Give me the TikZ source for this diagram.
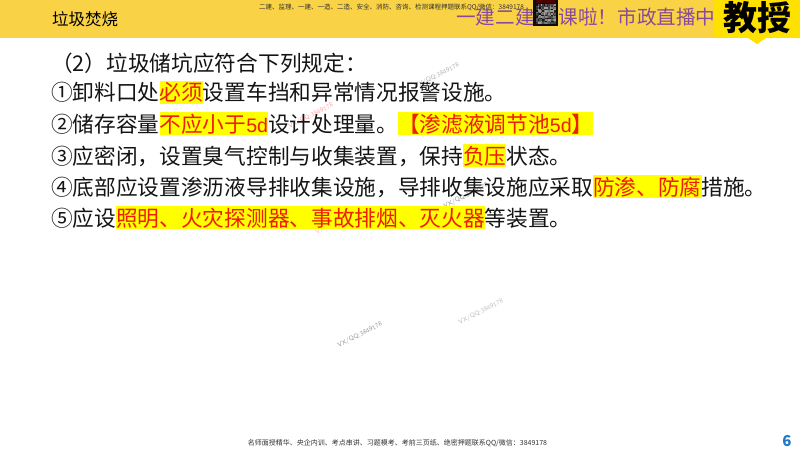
\documentclass[tikz,border=0pt]{standalone}
\usepackage{fontspec}
\setmainfont{Noto Sans CJK SC}
\newfontfamily\latinfont{Liberation Sans}
\definecolor{barcolor}{HTML}{F9D245}
\definecolor{brandcolor}{HTML}{FFE100}
\definecolor{hlyellow}{HTML}{FFFF00}
\definecolor{hlred}{HTML}{F01E00}
\definecolor{livepurple}{HTML}{8A4A9C}
\definecolor{pagecolor}{HTML}{1F78C8}
\newcommand{\hlword}[1]{{\setlength{\fboxsep}{0pt}\colorbox{hlyellow}{\rule[-3pt]{0pt}{23pt}\textcolor{hlred}{#1}}}}
\newcommand{\dayword}{{\latinfont\fontsize{19.6}{24}\selectfont 5d}}
\tikzstyle{bodyline}=[anchor=base west,inner sep=0pt,text=black!92,font=\fontsize{21.68}{26}\selectfont]
\tikzstyle{smallline}=[anchor=center,inner sep=0pt,text=black!80]
\tikzstyle{livetext}=[anchor=base west,inner sep=0pt,text=livepurple,font=\fontsize{19.6}{24}\selectfont]
\tikzstyle{stamp}=[anchor=center,inner sep=0pt,rotate=27,font=\sffamily\fontsize{6.5}{8}\selectfont]

\begin{document}
\begin{tikzpicture}[x=1pt,y=-1pt]
		\useasboundingbox (0,0) rectangle (800,450);
		\fill[white] (0,0) rectangle (800,450);
		\fill[barcolor] (0,0) rectangle (800,38);
		\fill[brandcolor] (714,0) rectangle (800,38);
		\fill[brandcolor] (748,38) -- (766,38) -- (757,44) -- cycle;
		\node[stamp,text=black!30] (markA) at (437,76) {VX/QQ:3849178};
		\node[stamp,text=red!35] (markB) at (311,116) {VX/QQ:3849178};
		\node[stamp,text=black!40] (markC) at (466,196) {VX/QQ:3849178};
		\node[stamp,text=red!25] (markD) at (338,222) {VX/QQ:3849178};
		\node[stamp,text=black!40] (markE) at (360,335) {VX/QQ:3849178};
		\node[stamp,text=black!25] (markF) at (481,312) {VX/QQ:3849178};
		\node[anchor=base west,inner sep=0pt,text=black,font=\fontsize{16.5}{20}\selectfont] (title) at (52,25) {垃圾焚烧};
		\node[smallline,font=\fontsize{6.5}{8}\selectfont] (courses) at (391.5,7) {二建、监理、一建、一造、二造、安全、消防、咨询、检测课程押题联系QQ/微信：3849178};
		\node[livetext] (liveA) at (456,24.5) {一建二建};
		\node[livetext] (liveB) at (558.5,24.5) {课啦！市政直播中};
		\fill[black!95] (533,0) rectangle (558,26);
		\fill[red!30!black] (536,0) rectangle (555,3);
		\pgfmathsetseed{3849}
		\foreach \i in {0,...,12} {
			\foreach \j in {0,...,12} {
				\pgfmathsetmacro{\shade}{int(35+random(0,60))}
				\fill[black!\shade!white] (536+1.5*\i,4+1.5*\j) rectangle +(1.5,1.5);
			}
		}
		\node[anchor=center,inner sep=0pt,text=black,font=\bfseries\fontsize{34}{40}\selectfont] (brand) at (757.5,17.5) {教授};
		\node[bodyline] (head) at (51,71) {（2）垃圾储坑应符合下列规定：};
		\node[bodyline] (itemA) at (51,100.5) {①卸料口处\hlword{必须}设置车挡和异常情况报警设施。};
		\node[bodyline] (itemB) at (51,132) {②储存容量\hlword{不应小于\dayword}设计处理量。\hlword{【渗滤液调节池\dayword】}};
		\node[bodyline] (itemC) at (51,164) {③应密闭，设置臭气控制与收集装置，保持\hlword{负压}状态。};
		\node[bodyline] (itemD) at (51,195) {④底部应设置渗沥液导排收集设施，导排收集设施应采取\hlword{防渗、防腐}措施。};
		\node[bodyline] (itemE) at (51,226) {⑤应设\hlword{照明、火灾探测器、事故排烟、灭火器}等装置。};
		\node[smallline,font=\fontsize{7}{8}\selectfont] (footer) at (397.5,443) {名师面授精华、央企内训、考点串讲、习题模考、考前三页纸、绝密押题联系QQ/微信：3849178};
		\node[anchor=center,inner sep=0pt,text=pagecolor,font=\bfseries\fontsize{15}{18}\selectfont] (page) at (787,441) {6};
\end{tikzpicture}
\end{document}
